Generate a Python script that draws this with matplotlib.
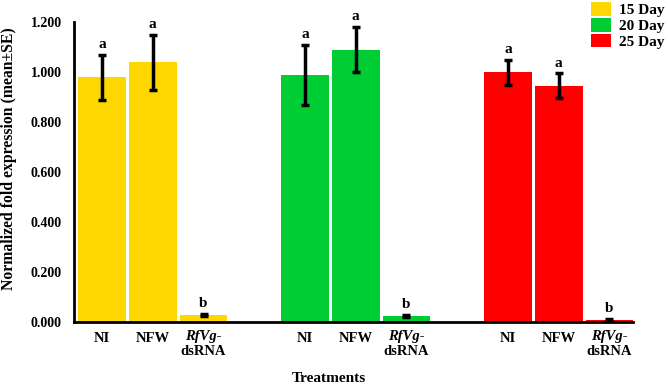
import numpy as np
import matplotlib
matplotlib.use("Agg")
import matplotlib.pyplot as plt
from matplotlib.patches import Patch
import matplotlib.transforms as mtransforms

plt.rcParams["font.family"] = ["Liberation Serif", "DejaVu Serif"]
plt.rcParams["font.weight"] = "bold"

treatments = ["NI", "NFW", "RfVg-dsRNA"]
days = ["15 Day", "20 Day", "25 Day"]
colors = ["#FFD700", "#00CC33", "#FF0000"]

means = {
    "15 Day": [0.98, 1.04, 0.028],
    "20 Day": [0.99, 1.09, 0.025],
    "25 Day": [1.00, 0.945, 0.008],
}
errs = {
    "15 Day": [0.09, 0.11, 0.004],
    "20 Day": [0.12, 0.09, 0.004],
    "25 Day": [0.05, 0.05, 0.003],
}
letters = {
    "15 Day": ["a", "a", "b"],
    "20 Day": ["a", "a", "b"],
    "25 Day": ["a", "a", "b"],
}

fig = plt.figure(figsize=(6.68, 3.87), dpi=100)
ax = fig.add_axes([0.111, 0.168, 0.837, 0.775])

tick_pos = []
tick_lab = []
for g, day in enumerate(days):
    x = np.arange(3) + 4 * g
    ax.bar(x, means[day], width=0.94, color=colors[g], edgecolor="none", zorder=2)
    ax.errorbar(x, means[day], yerr=errs[day], fmt="none", ecolor="black",
                elinewidth=2.5, capsize=3, capthick=2.5, zorder=3)
    for xi, m, e, lt in zip(x, means[day], errs[day], letters[day]):
        ax.text(xi, m + e + 0.015, lt, ha="center", va="bottom",
                fontsize=11, fontweight="bold")
    tick_pos += list(x)
    tick_lab += ["NI", "NFW", ""]

ax.set_xlim(-0.55, 10.47)
ax.set_ylim(0, 1.2)
ax.set_yticks(np.arange(0, 1.21, 0.2))
ax.set_yticklabels([f"{v:.3f}" for v in np.arange(0, 1.21, 0.2)],
                   fontsize=10, fontweight="bold")
ax.set_xticks(tick_pos)
ax.set_xticklabels(tick_lab, fontsize=10.5, fontweight="bold")
ax.tick_params(axis="y", length=0, pad=9)
ax.tick_params(axis="x", length=0, pad=7)

trans = mtransforms.blended_transform_factory(ax.transData, ax.transAxes)
for g in range(3):
    xi = 2 + 4 * g
    ax.text(xi, -0.027, "RfVg-", transform=trans, ha="center", va="top",
            fontsize=10.5, fontweight="bold", style="italic")
    ax.text(xi, -0.077, "dsRNA", transform=trans, ha="center", va="top",
            fontsize=10.5, fontweight="bold")

for s in ["top", "right"]:
    ax.spines[s].set_visible(False)
for s in ["left", "bottom"]:
    ax.spines[s].set_linewidth(2)

fig.text(0.0135, 0.589, "Normalized fold expression (mean\u00b1SE)", rotation=90,
         ha="center", va="center", fontsize=11.3, fontweight="bold")
fig.text(0.492, 0.005, "Treatments", ha="center", va="bottom",
         fontsize=11, fontweight="bold")

handles = [Patch(facecolor=c, edgecolor="none") for c in colors]
fig.legend(handles, days, loc="upper right", bbox_to_anchor=(1.015, 1.03),
           frameon=False, prop={"weight": "bold", "size": 11},
           handlelength=1.35, handleheight=1.0, labelspacing=0.05,
           handletextpad=0.5)

fig.savefig("out.png", dpi=100)
